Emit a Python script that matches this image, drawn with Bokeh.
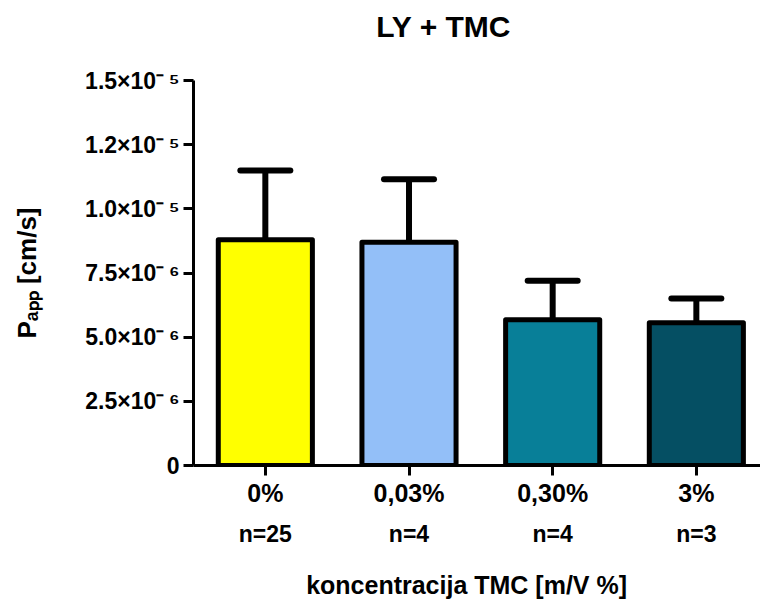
from bokeh.plotting import figure
from bokeh.models import (ColumnDataSource, Range1d, FixedTicker, LinearAxis,
                          Whisker, TeeHead)
from bokeh.embed import file_html
from bokeh.resources import INLINE

# ---- data ----
categories = ["0%", "0,03%", "0,30%", "3%"]
n_labels = ["n=25", "n=4", "n=4", "n=3"]
means = [8.80e-6, 8.70e-6, 5.68e-6, 5.56e-6]
errors = [2.69e-6, 2.45e-6, 1.52e-6, 0.95e-6]
colors = ["#FFFF00", "#93BFF8", "#087F98", "#054F63"]
y_ticks = [0, 2.5e-6, 5.0e-6, 7.5e-6, 1.0e-5, 1.25e-5, 1.5e-5]
y_tick_labels = ["0", "2.5×10⁻\u2009⁶", "5.0×10⁻\u2009⁶", "7.5×10⁻\u2009⁶",
                 "1.0×10⁻\u2009⁵", "1.2×10⁻\u2009⁵", "1.5×10⁻\u2009⁵"]
title_text = "LY + TMC"
x_title = "koncentracija TMC [m/V %]"
y_title = "Pₐₚₚ [cm/s]"

# ---- layout constants ----
FONT = "Liberation Sans"
W, H = 760, 601
BL, BR, BT, BB = 193, 0, 80, 136
FRAME_W = W - BL - BR
PX_PER_CAT = 143.67
Y_MAX = 1.5e-5
NBSP = "\u00a0"

xs = [i + 0.5 for i in range(len(categories))]
upper = [m + e for m, e in zip(means, errors)]
src = ColumnDataSource(dict(x=xs, mean=means, upper=upper, color=colors))

p = figure(width=W, height=H, output_backend="svg", toolbar_location=None,
           x_range=Range1d(0, FRAME_W / PX_PER_CAT), y_range=Range1d(0, Y_MAX),
           min_border_left=BL, min_border_right=BR, min_border_top=BT,
           min_border_bottom=BB, x_axis_location=None, y_axis_location=None)
p.outline_line_color = None
p.xgrid.visible = False
p.ygrid.visible = False
p.background_fill_color = "white"
p.border_fill_color = "white"

# error bars (upper only)
wh = Whisker(source=src, base="x", lower="mean", upper="upper",
             line_width=6, line_color="black",
             upper_head=TeeHead(size=50, line_width=6, line_color="black", line_cap="round"),
             lower_head=None, level="underlay")
p.add_layout(wh)

p.vbar(x="x", top="mean", width=0.655, source=src, fill_color="color",
       line_color="black", line_width=5, line_join="round")

# title as the label of a bare axis above the frame
tax = LinearAxis(ticker=FixedTicker(ticks=[]))
tax.axis_line_color = None
tax.major_tick_line_color = None
tax.minor_tick_line_color = None
tax.major_tick_out = 0
tax.major_tick_in = 0
tax.major_label_standoff = 0
tax.axis_label = title_text + NBSP * 8
tax.axis_label_standoff = 38
tax.axis_label_text_font = FONT
tax.axis_label_text_font_style = "bold"
tax.axis_label_text_font_size = "30px"
tax.axis_label_text_color = "black"
p.add_layout(tax, "above")

# y axis
yax = LinearAxis(ticker=FixedTicker(ticks=y_ticks),
                 major_label_overrides={t: l for t, l in zip(y_ticks, y_tick_labels)})
yax.axis_line_width = 3
yax.major_tick_line_width = 3
yax.major_tick_out = 10
yax.major_tick_in = 0
yax.minor_tick_line_color = None
yax.major_label_standoff = 4
yax.major_label_text_font = FONT
yax.major_label_text_font_style = "bold"
yax.major_label_text_font_size = "23px"
yax.major_label_text_color = "black"
yax.axis_label = y_title
yax.axis_label_standoff = 40
yax.axis_label_text_font = FONT
yax.axis_label_text_font_style = "bold"
yax.axis_label_text_font_size = "26px"
yax.axis_label_text_color = "black"
p.add_layout(yax, "left")

# x axis (categories)
xax = LinearAxis(ticker=FixedTicker(ticks=xs),
                 major_label_overrides={x: c for x, c in zip(xs, categories)})
xax.axis_line_width = 3
xax.major_tick_line_width = 3
xax.major_tick_out = 10
xax.major_tick_in = 0
xax.minor_tick_line_color = None
xax.major_label_standoff = 3
xax.major_label_text_font = FONT
xax.major_label_text_font_style = "bold"
xax.major_label_text_font_size = "25px"
xax.major_label_text_color = "black"
p.add_layout(xax, "below")

# second x axis with n labels and the axis title
nax = LinearAxis(ticker=FixedTicker(ticks=xs),
                 major_label_overrides={x: n for x, n in zip(xs, n_labels)})
nax.axis_line_color = None
nax.major_tick_line_color = None
nax.minor_tick_line_color = None
nax.major_tick_out = 0
nax.major_tick_in = 0
nax.major_label_standoff = 11
nax.major_label_text_font = FONT
nax.major_label_text_font_style = "bold"
nax.major_label_text_font_size = "23px"
nax.major_label_text_color = "black"
nax.axis_label = x_title + NBSP * 3
nax.axis_label_standoff = 21
nax.axis_label_text_font = FONT
nax.axis_label_text_font_style = "bold"
nax.axis_label_text_font_size = "25px"
nax.axis_label_text_color = "black"
p.add_layout(nax, "below")

open("out.html", "w").write(file_html(p, INLINE))
